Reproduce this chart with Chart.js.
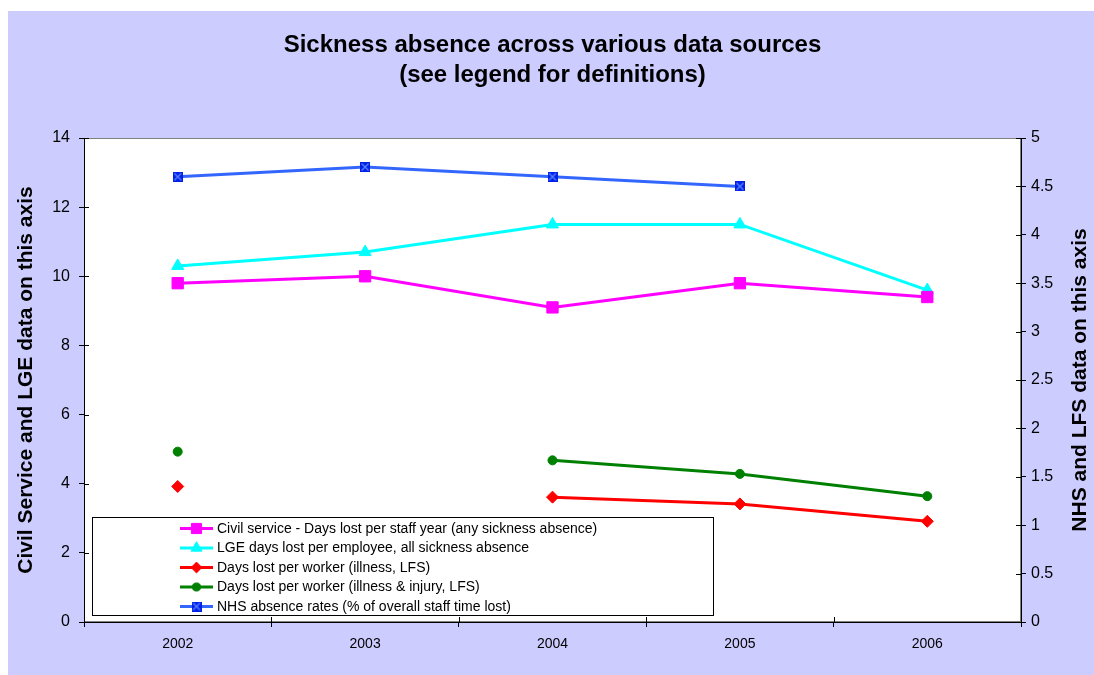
<!DOCTYPE html>
<html>
<head>
<meta charset="utf-8">
<title>Sickness absence across various data sources</title>
<script src="https://cdn.jsdelivr.net/npm/chart.js@4.4.1/dist/chart.umd.min.js"></script>
<style>
  html, body { margin: 0; padding: 0; background: #fff; }
  canvas { display: block; }
</style>
</head>
<body>
<canvas id="sickness-chart" width="1094" height="675"></canvas>
<script>
const years = ['2002', '2003', '2004', '2005', '2006'];

// days lost, left axis
const civilService = [9.8, 10.0, 9.1, 9.8, 9.4];
const lgeDays = [10.3, 10.7, 11.5, 11.5, 9.6];

// LFS and NHS, right axis
const lfsIllness = [1.4, null, 1.29, 1.22, 1.04];
const lfsIllnessInjury = [1.76, null, 1.67, 1.53, 1.3];
const nhsRates = [4.6, 4.7, 4.6, 4.5, null];

const seriesLabels = [
  'Civil service - Days lost per staff year (any sickness absence)',
  'LGE days lost per employee, all sickness absence',
  'Days lost per worker (illness, LFS)',
  'Days lost per worker (illness & injury, LFS)',
  'NHS absence rates (% of overall staff time lost)'
];
const titleLines = ['Sickness absence across various data sources', '(see legend for definitions)'];
const leftAxisTitle = 'Civil Service and LGE data on this axis';
const rightAxisTitle = 'NHS and LFS data on this axis';

const FONT = '"Liberation Sans", Arial, sans-serif';
Chart.defaults.font.family = FONT;
Chart.defaults.color = '#000';

// little blue square with a cross for the NHS points
const nhsMarker = document.createElement('canvas');
nhsMarker.width = 10;
nhsMarker.height = 10;
(function () {
  const m = nhsMarker.getContext('2d');
  m.fillStyle = '#0020E8';
  m.fillRect(0, 0, 10, 10);
  m.strokeStyle = '#5C85FF';
  m.lineWidth = 1.3;
  m.beginPath();
  m.moveTo(1.5, 1.5); m.lineTo(8.5, 8.5);
  m.moveTo(8.5, 1.5); m.lineTo(1.5, 8.5);
  m.stroke();
})();

function series(label, data, color, style, radius, axis) {
  return {
    label: label,
    data: data,
    yAxisID: axis,
    borderColor: color,
    backgroundColor: color,
    borderWidth: 3,
    pointStyle: style,
    pointRadius: radius,
    pointHoverRadius: radius,
    pointBorderWidth: 1,
    pointBorderColor: color,
    pointBackgroundColor: color,
    spanGaps: false,
    tension: 0
  };
}

// lavender frame, white plot area with grey edge
const frame = {
  id: 'frame',
  beforeDraw(chart) {
    const { ctx, width, height, chartArea: a } = chart;
    ctx.save();
    ctx.fillStyle = '#fff';
    ctx.fillRect(0, 0, width, height);
    ctx.fillStyle = '#CCCCFF';
    ctx.fillRect(8, 11, width - 8, height - 11);
    ctx.fillStyle = '#fff';
    ctx.fillRect(a.left, a.top, a.width, a.height);
    ctx.strokeStyle = '#808080';
    ctx.lineWidth = 1;
    ctx.strokeRect(a.left + 0.5, a.top + 0.5, a.width - 1, a.height - 1);
    ctx.restore();
  }
};

// tick marks that cross the axis lines, the right-hand title and the boxed legend
const extras = {
  id: 'extras',
  afterDraw(chart) {
    const { ctx, chartArea: a, scales } = chart;
    ctx.save();
    ctx.strokeStyle = '#000';
    ctx.lineWidth = 1;
    ctx.beginPath();
    scales.y.ticks.forEach(t => {
      const py = Math.round(scales.y.getPixelForValue(t.value)) + 0.5;
      ctx.moveTo(a.left, py); ctx.lineTo(a.left + 5, py);
    });
    scales.y2.ticks.forEach(t => {
      const py = Math.round(scales.y2.getPixelForValue(t.value)) + 0.5;
      ctx.moveTo(a.right, py); ctx.lineTo(a.right - 5, py);
    });
    for (let i = 0; i <= years.length; i++) {
      const px = Math.round(scales.x.getPixelForValue(i - 0.5)) + 0.5;
      ctx.moveTo(px, a.bottom); ctx.lineTo(px, a.bottom - 5);
    }
    ctx.stroke();

    // right axis title reads bottom to top like the left one
    ctx.font = 'bold 21px ' + FONT;
    ctx.fillStyle = '#000';
    ctx.textAlign = 'center';
    ctx.textBaseline = 'middle';
    ctx.translate(1080, (a.top + a.bottom) / 2);
    ctx.rotate(-Math.PI / 2);
    ctx.fillText(rightAxisTitle, 0, 0);
    ctx.setTransform(1, 0, 0, 1, 0, 0);

    // legend
    const bx = a.left + 8, by = a.bottom - 105, bw = 621, bh = 98;
    ctx.fillStyle = '#fff';
    ctx.fillRect(bx, by, bw, bh);
    ctx.strokeStyle = '#000';
    ctx.strokeRect(bx + 0.5, by + 0.5, bw, bh);
    ctx.font = '14px ' + FONT;
    ctx.textAlign = 'left';
    chart.data.datasets.forEach((ds, i) => {
      const ry = by + 11.5 + i * 19.5;
      ctx.strokeStyle = ds.borderColor;
      ctx.lineWidth = 3;
      ctx.beginPath();
      ctx.moveTo(bx + 88, ry);
      ctx.lineTo(bx + 121, ry);
      ctx.stroke();
      ctx.fillStyle = ds.backgroundColor;
      ctx.strokeStyle = ds.borderColor;
      ctx.lineWidth = 1;
      Chart.helpers.drawPoint(ctx, {
        pointStyle: ds.pointStyle,
        radius: ds.pointRadius * 0.9,
        rotation: 0,
        borderWidth: 1
      }, bx + 104.5, ry);
      ctx.fillStyle = '#000';
      ctx.fillText(ds.label, bx + 125, ry + 0.5);
    });
    ctx.restore();
  }
};

new Chart(document.getElementById('sickness-chart'), {
  type: 'line',
  data: {
    labels: years,
    datasets: [
      series(seriesLabels[0], civilService, '#FF00FF', 'rect', 8, 'y'),
      series(seriesLabels[1], lgeDays, '#00FFFF', 'triangle', 7, 'y'),
      series(seriesLabels[2], lfsIllness, '#FF0000', 'rectRot', 6, 'y2'),
      series(seriesLabels[3], lfsIllnessInjury, '#008000', 'circle', 4.5, 'y2'),
      series(seriesLabels[4], nhsRates, '#3366FF', nhsMarker, 5, 'y2')
    ]
  },
  options: {
    responsive: false,
    animation: false,
    layout: { padding: 0 },
    plugins: {
      legend: { display: false },
      tooltip: { enabled: false },
      title: {
        display: true,
        text: titleLines,
        fullSize: false,
        color: '#000',
        font: { size: 24, weight: 'bold', lineHeight: 1.25 },
        padding: { top: 30, bottom: 48 }
      }
    },
    scales: {
      x: {
        type: 'category',
        offset: true,
        grid: { drawOnChartArea: false, color: '#000', tickLength: 5, offset: true },
        border: { color: '#000' },
        ticks: { font: { size: 14 }, padding: 9, maxRotation: 0 },
        afterFit: s => { s.height = 53; }
      },
      y: {
        position: 'left',
        min: 0,
        max: 14,
        ticks: { stepSize: 2, font: { size: 16 }, padding: 9 },
        grid: { drawOnChartArea: false, color: '#000', tickLength: 5 },
        border: { color: '#000' },
        title: {
          display: true,
          text: leftAxisTitle,
          color: '#000',
          font: { size: 21, weight: 'bold' },
          padding: { top: 14, bottom: 0 }
        },
        afterFit: s => { s.width = 84; }
      },
      y2: {
        position: 'right',
        min: 0,
        max: 5,
        ticks: { stepSize: 0.5, font: { size: 16 }, padding: 5, callback: v => String(v) },
        grid: { drawOnChartArea: false, color: '#000', tickLength: 5 },
        border: { color: '#000' },
        afterFit: s => { s.width = 73; }
      }
    }
  },
  plugins: [frame, extras]
});
</script>
</body>
</html>
